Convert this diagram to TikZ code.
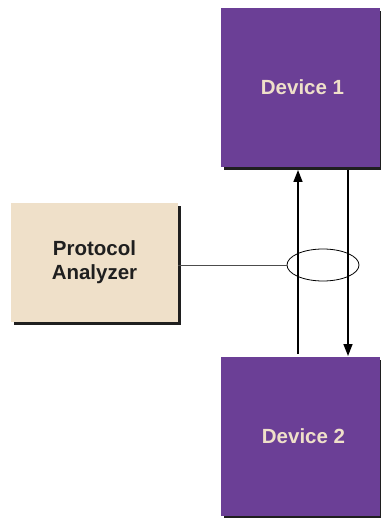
\documentclass[tikz,border=0pt]{standalone}
\usepackage{fontspec}
\setmainfont{Liberation Sans}
\usetikzlibrary{shapes.geometric,shadows,arrows.meta}
\definecolor{devpurple}{HTML}{6B3F96}
\definecolor{anabeige}{HTML}{EFE0C9}
\tikzset{
  boxshadow/.style={drop shadow={shadow xshift=3pt, shadow yshift=-3pt, opacity=1, fill=black!88}},
  devbox/.style={rectangle, fill=devpurple, text=anabeige, minimum width=159pt, minimum height=159pt,
    font=\fontsize{20.5}{24}\selectfont\bfseries, boxshadow},
  anabox/.style={rectangle, fill=anabeige, text=black!88, minimum width=167pt, minimum height=119pt,
    align=center, font=\fontsize{20.5}{24}\selectfont\bfseries, boxshadow},
  link/.style={line width=1.5pt, -{Triangle[width=9pt,length=12pt]}}
}
\begin{document}
\begin{tikzpicture}[x=1pt, y=-1pt]
  \useasboundingbox (0,0) rectangle (380,518);
  % Geraete
  \node[devbox] (dev1) at (300.5,87.5) {\hspace*{4pt}Device 1};
  \node[devbox] (dev2) at (300.5,436) {\hspace*{6pt}Device 2};
  % Analysator
  \node[anabox] (analyzer) at (94.5,262.5) {Protocol\\Analyzer};
  % Abgriff
  \node[ellipse, draw, line width=0.8pt, minimum width=72pt, minimum height=32pt, inner sep=0pt] (tap) at (323,265) {};
  \coordinate (upbot) at (298,354);
  \coordinate (uptop) at (298,170);
  \coordinate (dntop) at (348,170);
  \coordinate (dnbot) at (348,356);
  \draw[link] (upbot) -- (uptop);
  \draw[link] (dntop) -- (dnbot);
  \draw[line width=0.8pt, black!70] (tap.west -| analyzer.east) -- (tap.west);
\end{tikzpicture}
\end{document}
